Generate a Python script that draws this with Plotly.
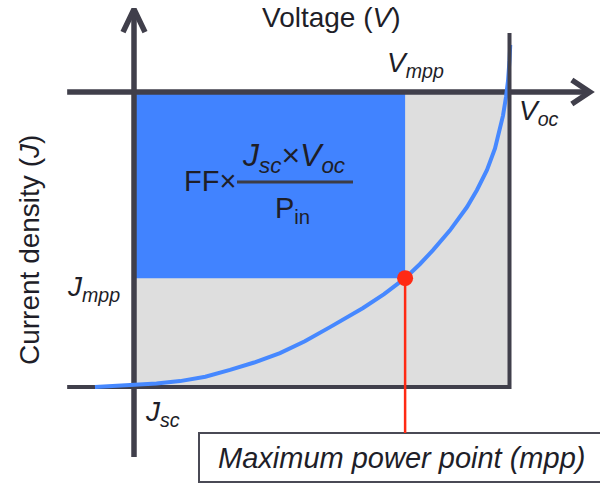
import plotly.graph_objects as go

# ---- data (normalised units: V / V_oc, J / J_sc) ----
V_OC = 1.0
J_SC = -1.0
V_MPP = 0.722
J_MPP = -0.631

curve_v = [-0.104, 0.008, 0.060, 0.1225, 0.190, 0.2557, 0.320, 0.3888, 0.455,
           0.522, 0.566, 0.610, 0.666, 0.722, 0.7617, 0.7963, 0.8415, 0.8868,
           0.9134, 0.9401, 0.9614, 0.9747, 0.9827, 0.9907, 0.996, 1.0, 1.002]
curve_j = [-1.0, -0.993, -0.988, -0.980, -0.965, -0.942, -0.917, -0.885, -0.845,
           -0.797, -0.766, -0.732, -0.685, -0.631, -0.583, -0.536, -0.469, -0.390,
           -0.332, -0.264, -0.191, -0.129, -0.080, -0.017, 0.037, 0.108, 0.160]

# axis extents (data units)
AX_V_MIN, AX_V_TIP = -0.178, 1.214
AX_J_MIN, AX_J_TIP = -1.237, 0.281
VOC_LINE_TOP = 0.2
CALLOUT_J = -1.156

W, H = 600, 484
X_RANGE = [-134 / 375.5, 466 / 375.5]
Y_RANGE = [(92 - 484) / 295, 92 / 295]

DARK = "#403f4b"
TXT = "#1e1e28"
BLUE = "#4183ff"
CURVE = "#4688ff"
GRAY = "#dedede"
RED = "#ff2a14"
FONT = "Liberation Sans"

fig = go.Figure()

# gray rectangle (Jsc x Voc)
fig.add_trace(go.Scatter(x=[0, V_OC, V_OC, 0, 0], y=[0, 0, J_SC, J_SC, 0],
                         fill="toself", fillcolor=GRAY, mode="lines",
                         line=dict(width=0), hoverinfo="skip"))
# blue rectangle (Jmpp x Vmpp)
fig.add_trace(go.Scatter(x=[0, V_MPP, V_MPP, 0, 0], y=[0, 0, J_MPP, J_MPP, 0],
                         fill="toself", fillcolor=BLUE, mode="lines",
                         line=dict(width=0), hoverinfo="skip"))

# bottom border of the gray rectangle
fig.add_trace(go.Scatter(x=[AX_V_MIN, V_OC], y=[J_SC, J_SC],
                         mode="lines", line=dict(color=DARK, width=4)))
# axes
fig.add_trace(go.Scatter(x=[AX_V_MIN, AX_V_TIP], y=[0, 0],
                         mode="lines", line=dict(color=DARK, width=5.5)))
fig.add_trace(go.Scatter(x=[0, 0], y=[AX_J_MIN, AX_J_TIP],
                         mode="lines", line=dict(color=DARK, width=5.5)))
# arrow heads
fig.add_trace(go.Scatter(x=[AX_V_TIP - 0.048, AX_V_TIP, AX_V_TIP - 0.048],
                         y=[0.0407, 0, -0.0407],
                         mode="lines", line=dict(color=DARK, width=5.5)))
fig.add_trace(go.Scatter(x=[-0.0293, 0, 0.0293],
                         y=[AX_J_TIP - 0.078, AX_J_TIP, AX_J_TIP - 0.078],
                         mode="lines", line=dict(color=DARK, width=5.5)))

# J-V curve
fig.add_trace(go.Scatter(x=curve_v, y=curve_j, mode="lines",
                         line=dict(color=CURVE, width=4)))

# right border (V_oc line) drawn over the curve's top end
fig.add_trace(go.Scatter(x=[V_OC, V_OC], y=[J_SC - 0.007, VOC_LINE_TOP],
                         mode="lines", line=dict(color=DARK, width=4)))

# mpp callout
fig.add_trace(go.Scatter(x=[V_MPP, V_MPP], y=[J_MPP, CALLOUT_J], mode="lines",
                         line=dict(color=RED, width=2.5)))
fig.add_trace(go.Scatter(x=[V_MPP], y=[J_MPP], mode="markers",
                         marker=dict(color=RED, size=16)))


def px(x, y):
    return x / W, 1 - y / H


def label(text, x, y, xanchor="center", size=28, angle=0):
    xp, yp = px(x, y)
    fig.add_annotation(text=text, x=xp, y=yp, xref="paper", yref="paper",
                       xanchor=xanchor, yanchor="middle", showarrow=False,
                       textangle=angle,
                       font=dict(family=FONT, size=size, color=TXT))


label("Voltage (<i>V</i>)", 331, 17)
label("Current density (<i>J</i>)", 30, 250, angle=-90)
label("<i>V</i><sub><i>mpp</i></sub>", 385, 64, xanchor="left")
label("<i>V</i><sub><i>oc</i></sub>", 517, 112, xanchor="left")
label("<i>J</i><sub><i>mpp</i></sub>", 65, 288, xanchor="left")
label("<i>J</i><sub><i>sc</i></sub>", 143, 413, xanchor="left")
label("FF×", 182, 181, xanchor="left", size=29)
label("<i>J</i><sub><i>sc</i></sub>×<i>V</i><sub><i>oc</i></sub>", 293, 157, size=32)
label("P<sub>in</sub>", 292, 210, size=29)
label("<i>Maximum power point (mpp)</i>", 401, 458, size=29)

# fraction bar
fig.add_shape(type="line", xref="paper", yref="paper",
              x0=237 / W, x1=353 / W, y0=1 - 182 / H, y1=1 - 182 / H,
              line=dict(color="#3c3c46", width=3))
# callout box
fig.add_shape(type="rect", xref="paper", yref="paper",
              x0=199 / W, x1=603 / W, y0=1 - 482 / H, y1=1 - 433 / H,
              line=dict(color="#4a4a55", width=2), fillcolor="white", layer="below")

fig.update_layout(
    width=W, height=H, margin=dict(l=0, r=0, t=0, b=0),
    paper_bgcolor="white", plot_bgcolor="white", showlegend=False,
    xaxis=dict(range=X_RANGE, visible=False, fixedrange=True),
    yaxis=dict(range=Y_RANGE, visible=False, fixedrange=True),
)

fig.write_html("out.html")
